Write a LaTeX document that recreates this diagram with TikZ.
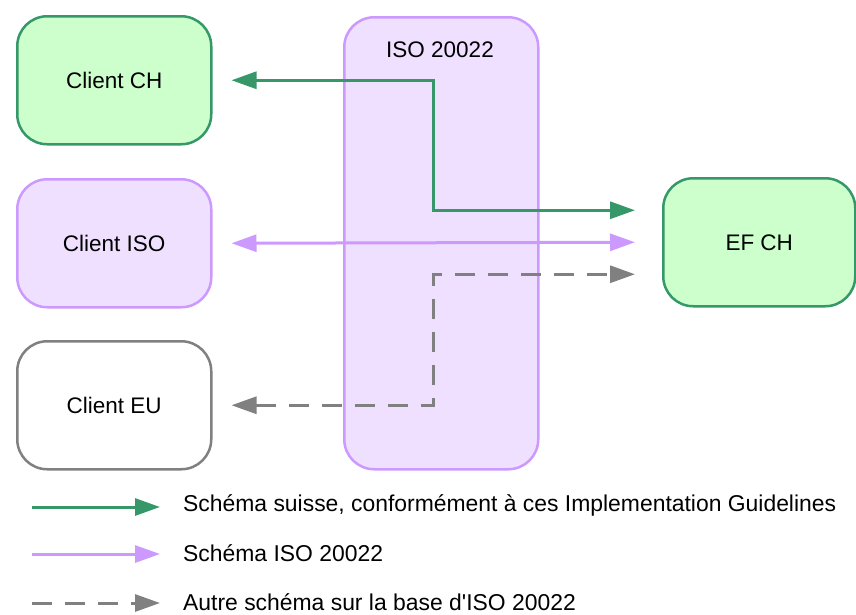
\documentclass[tikz,border=0pt]{standalone}
\usepackage{fontspec}
\setmainfont{Liberation Sans}
\usetikzlibrary{arrows.meta}
\definecolor{chgreen}{RGB}{54,152,104}
\definecolor{chfill}{RGB}{204,255,204}
\definecolor{isoline}{RGB}{204,153,255}
\definecolor{isofill}{RGB}{240,224,255}
\definecolor{otherline}{RGB}{128,128,128}
\tikzset{
  flowtip/.tip={Triangle[length=25pt, width=17pt]},
  box/.style={draw, line width=2.5pt, rounded corners=30pt, minimum width=194pt,
    minimum height=128pt, inner sep=0pt, font=\fontsize{22.5}{27}\selectfont},
  chbox/.style={box, draw=chgreen, fill=chfill},
  isobox/.style={box, draw=isoline, fill=isofill},
  eubox/.style={box, draw=otherline, fill=white},
  swiss/.style={draw=chgreen, line width=3pt},
  isoflow/.style={draw=isoline, line width=3pt},
  other/.style={draw=otherline, line width=3pt, dash pattern=on 20pt off 13pt},
  legtext/.style={anchor=west, inner sep=0pt, font=\fontsize{22.9}{27}\selectfont}
}
\begin{document}
\begin{tikzpicture}[x=1pt, y=-1pt]
\useasboundingbox (0,0) rectangle (856,614);

% ISO 20022 column
\node[isobox, minimum height=452pt, anchor=north west] (col) at (343,16) {};
\node[font=\fontsize{22.5}{27}\selectfont, inner sep=0pt] (coltitle) at (440,50) {ISO 20022};

% Participants
\node[chbox, anchor=north west] (cch) at (16,15) {Client CH};
\node[isobox, anchor=north west] (ciso) at (16,178) {Client ISO};
\node[eubox, anchor=north west] (ceu) at (16,340) {Client EU};
\node[chbox, anchor=north west, minimum width=192pt] (ef) at (662,177) {EF CH};

% Connector ends
\coordinate (cchR) at ([xshift=19pt]cch.east);
\coordinate (cisoR) at ([xshift=19pt]ciso.east);
\coordinate (ceuR) at ([xshift=19pt]ceu.east);
\coordinate (efA) at ([xshift=-27pt, yshift=32pt]ef.west);
\coordinate (efB) at ([xshift=-27pt]ef.west);
\coordinate (efC) at ([xshift=-27pt, yshift=-32pt]ef.west);
\coordinate (bend) at (433,0);

% Flows
\draw[swiss, {flowtip}-{flowtip}] (cchR) -- (bend |- cchR) -- (bend |- efA) -- (efA);
\draw[isoflow, {flowtip}-{flowtip}] (cisoR) -- (efB);
\draw[other, {flowtip}-{flowtip}] (ceuR) -- (bend |- ceuR) -- (bend |- efC) -- (efC);

% Legend
\coordinate (l1a) at (32,507); \coordinate (l1b) at (160,507);
\coordinate (l2a) at (32,554); \coordinate (l2b) at (160,554);
\coordinate (l3a) at (32,603); \coordinate (l3b) at (160,603);
\draw[swiss, -{flowtip}] (l1a) -- (l1b);
\draw[isoflow, -{flowtip}] (l2a) -- (l2b);
\draw[other, -{flowtip}] (l3a) -- (l3b);
\node[legtext] (t1) at (183,505) {Schéma suisse, conformément à ces Implementation Guidelines};
\node[legtext] (t2) at (183,553) {Schéma ISO 20022};
\node[legtext] (t3) at (183,602) {Autre schéma sur la base d\textquotesingle ISO 20022};
\end{tikzpicture}
\end{document}
